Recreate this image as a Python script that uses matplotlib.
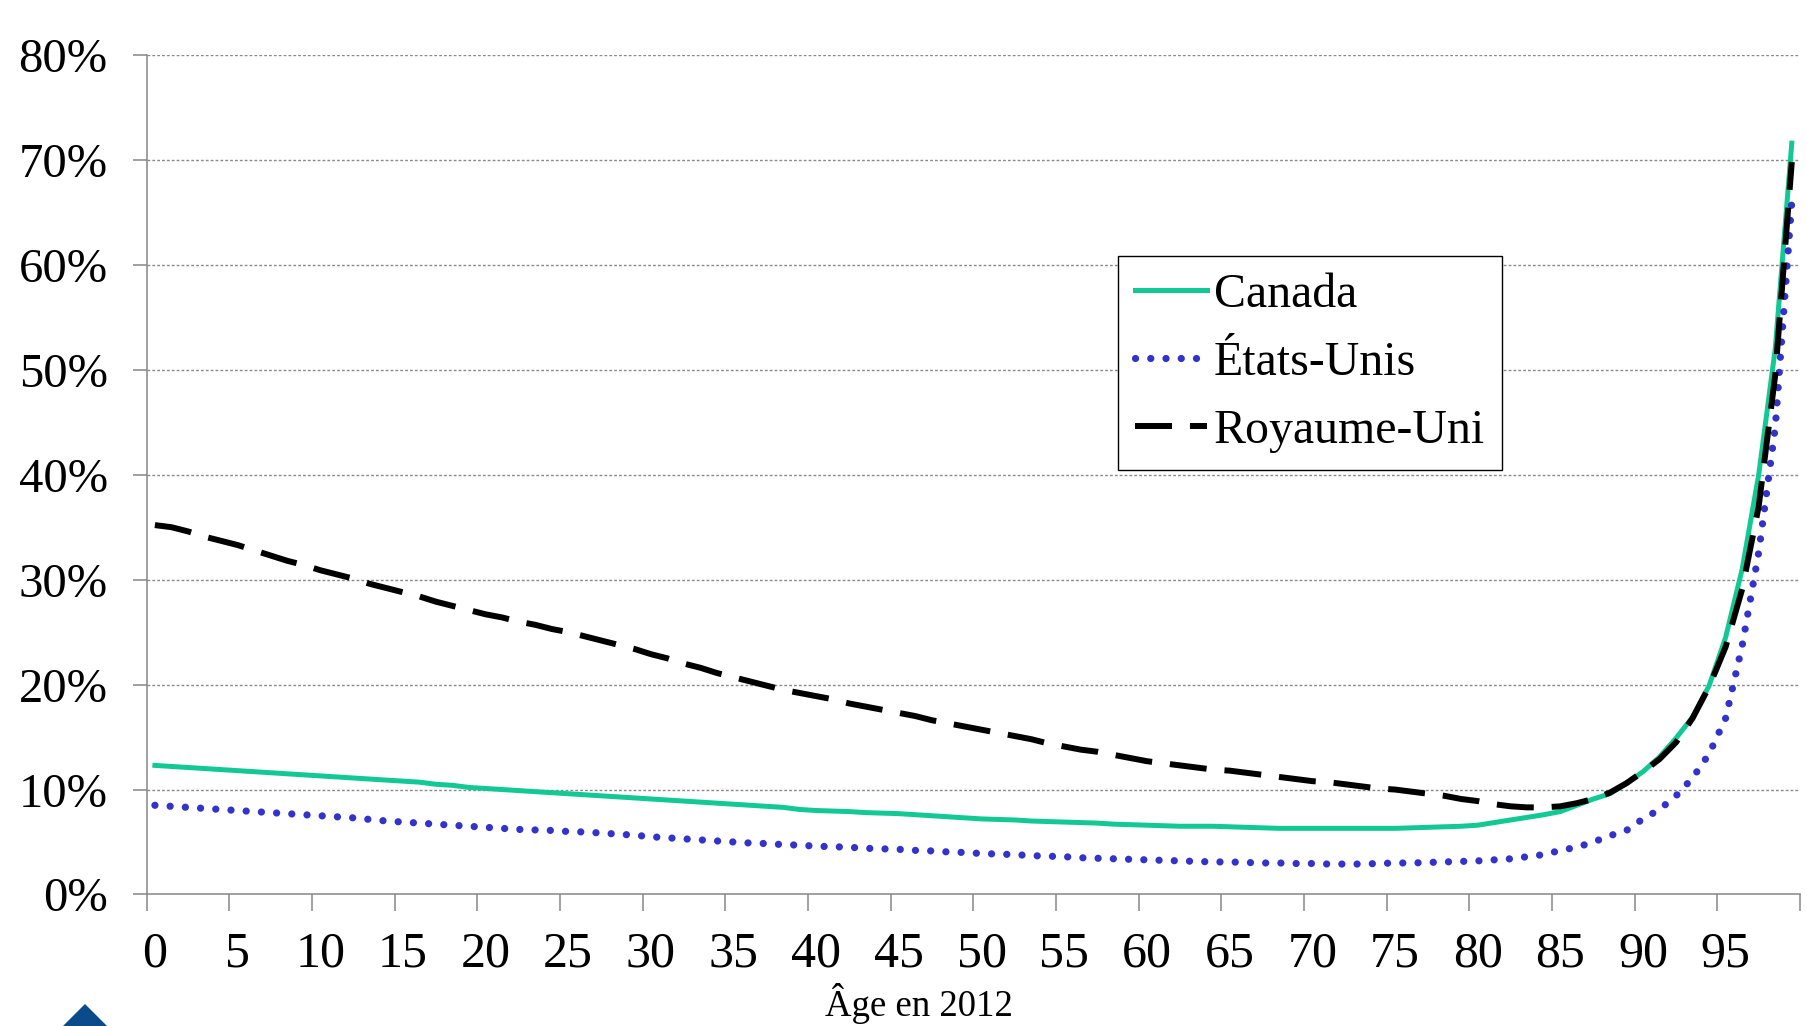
import matplotlib
matplotlib.use("Agg")
import matplotlib.pyplot as plt
from matplotlib.patches import Polygon
import numpy as np

ages = list(range(100))
age_labels = [str(a) for a in range(0, 100, 5)]
y_labels = ["0%", "10%", "20%", "30%", "40%", "50%", "60%", "70%", "80%"]
series_names = ["Canada", "États-Unis", "Royaume-Uni"]
x_title = "Âge en 2012"

canada = [12.3, 12.2, 12.1, 12.0, 11.9, 11.8, 11.7, 11.6, 11.5, 11.4,
          11.3, 11.2, 11.1, 11.0, 10.9, 10.8, 10.7, 10.5, 10.4, 10.2,
          10.1, 10.0, 9.9, 9.8, 9.7, 9.6, 9.5, 9.4, 9.3, 9.2,
          9.1, 9.0, 8.9, 8.8, 8.7, 8.6, 8.5, 8.4, 8.3, 8.1,
          8.0, 7.95, 7.9, 7.8, 7.75, 7.7, 7.6, 7.5, 7.4, 7.3,
          7.2, 7.15, 7.1, 7.0, 6.95, 6.9, 6.85, 6.8, 6.7, 6.65,
          6.6, 6.55, 6.5, 6.5, 6.5, 6.45, 6.4, 6.35, 6.3, 6.3,
          6.3, 6.3, 6.3, 6.3, 6.3, 6.3, 6.35, 6.4, 6.45, 6.5,
          6.6, 6.85, 7.1, 7.35, 7.6, 7.9, 8.5, 9.1, 9.6, 10.6,
          11.7, 13.1, 14.9, 16.9, 19.9, 24.5, 31.0, 40.0, 52.0, 71.6]

etats_unis = [8.5, 8.4, 8.3, 8.2, 8.1, 8.0, 7.9, 7.8, 7.7, 7.6,
              7.5, 7.4, 7.3, 7.15, 7.0, 6.9, 6.8, 6.7, 6.6, 6.5,
              6.4, 6.3, 6.2, 6.15, 6.1, 6.0, 5.95, 5.85, 5.75, 5.65,
              5.5, 5.4, 5.3, 5.2, 5.1, 5.0, 4.9, 4.85, 4.75, 4.7,
              4.6, 4.55, 4.5, 4.4, 4.35, 4.3, 4.2, 4.15, 4.05, 4.0,
              3.9, 3.85, 3.8, 3.7, 3.65, 3.6, 3.5, 3.45, 3.4, 3.35,
              3.3, 3.25, 3.2, 3.15, 3.1, 3.1, 3.05, 3.0, 3.0, 2.95,
              2.95, 2.9, 2.9, 2.9, 2.95, 3.0, 3.0, 3.05, 3.1, 3.15,
              3.2, 3.3, 3.4, 3.6, 3.8, 4.2, 4.5, 5.0, 5.6, 6.1,
              7.2, 8.1, 9.4, 11.1, 13.4, 16.8, 23.7, 32.6, 44.5, 66.0]

royaume_uni = [35.2, 35.0, 34.6, 34.1, 33.7, 33.3, 32.8, 32.3, 31.8, 31.4,
               30.9, 30.5, 30.1, 29.6, 29.2, 28.8, 28.4, 27.9, 27.5, 27.1,
               26.7, 26.4, 26.0, 25.7, 25.3, 25.0, 24.6, 24.2, 23.8, 23.4,
               22.9, 22.5, 22.0, 21.6, 21.1, 20.7, 20.3, 19.9, 19.5, 19.2,
               18.9, 18.6, 18.2, 17.9, 17.6, 17.3, 17.0, 16.6, 16.3, 16.0,
               15.7, 15.4, 15.1, 14.8, 14.4, 14.1, 13.8, 13.6, 13.3, 13.0,
               12.7, 12.5, 12.3, 12.1, 11.9, 11.8, 11.6, 11.4, 11.2, 11.0,
               10.8, 10.7, 10.5, 10.3, 10.1, 10.0, 9.8, 9.6, 9.4, 9.1,
               8.9, 8.6, 8.4, 8.3, 8.3, 8.4, 8.7, 9.1, 9.7, 10.6,
               11.7, 12.9, 14.5, 16.8, 19.8, 23.6, 29.1, 37.0, 49.5, 69.8]

SERIF = ["Liberation Serif", "DejaVu Serif"]
plt.rcParams["font.family"] = SERIF

fig = plt.figure(figsize=(18.08, 10.26), dpi=100)
ax = fig.add_axes([0.0811, 0.1282, 0.9145, 0.8182])

xpos = np.array(ages) + 0.5
ax.plot(xpos, np.array(canada) / 100, color="#12C996", lw=3.6,
        solid_joinstyle="round", label=series_names[0], zorder=3)
ax.plot(xpos, np.array(etats_unis) / 100, color="#3333CC", lw=5.2,
        linestyle=(0, (0.01, 2.1)), dash_capstyle="round",
        label=series_names[1], zorder=4)
ax.plot(xpos, np.array(royaume_uni) / 100, color="black", lw=4.3,
        linestyle=(0, (6.2, 3.0)), label=series_names[2], zorder=5)

ax.set_xlim(0, 100)
ax.set_ylim(0, 0.8)

ax.set_yticks([i / 10 for i in range(9)])
ax.set_yticklabels(y_labels)
ax.tick_params(axis="y", direction="out", length=10, width=1.1,
               color="#868686", labelsize=35, pad=18)

ax.set_xticks(list(range(0, 101, 5)))
ax.set_xticklabels([""] * 21)
ax.tick_params(axis="x", which="major", direction="out", length=12,
               width=1.1, color="#868686")
ax.set_xticks([a + 0.5 for a in range(0, 100, 5)], minor=True)
ax.set_xticklabels(age_labels, minor=True)
ax.tick_params(axis="x", which="minor", length=0, labelsize=36, pad=26)

for v in range(1, 9):
    ax.axhline(v / 10, color="#8a8a8a", lw=1.0, linestyle=(0, (2, 1.5)),
               zorder=1)

for s in ["top", "right"]:
    ax.spines[s].set_visible(False)
for s in ["left", "bottom"]:
    ax.spines[s].set_color("#868686")
    ax.spines[s].set_linewidth(1.1)

leg = ax.legend(loc="upper left", bbox_to_anchor=(0.5875, 0.7603),
                fontsize=34.5, frameon=True, fancybox=False, framealpha=1,
                edgecolor="black", handlelength=1.5, handletextpad=0.15,
                labelspacing=0.5, borderpad=0.35, borderaxespad=0)
leg.get_frame().set_linewidth(1.0)

fig.text(919 / 1808, 1 - 1016 / 1026, x_title, ha="center",
         va="baseline", fontsize=26.5)

# partial logo at bottom-left
tri = Polygon([(85 / 1808, 1 - 1004 / 1026), (62 / 1808, 1 - 1027 / 1026),
               (108 / 1808, 1 - 1027 / 1026)], closed=True,
              transform=fig.transFigure, facecolor="#0B4A8B",
              edgecolor="none", clip_on=False)
fig.patches.append(tri)

fig.savefig("out.png", dpi=100)
